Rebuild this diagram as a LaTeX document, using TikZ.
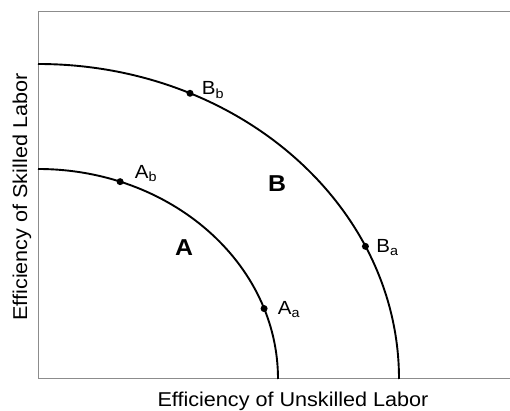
\documentclass[tikz,border=0pt]{standalone}
\usepackage{fontspec}
\setmainfont[FakeStretch=1.08]{Liberation Sans}
\usetikzlibrary{positioning}

\begin{document}
\begin{tikzpicture}[
  x=1pt, y=1pt,
  frontier/.style={line width=1.9pt, black},
  frame/.style={line width=1pt, black!45},
  dot/.style={circle, fill=black, inner sep=0pt, minimum size=7pt},
  ptlabel/.style={inner sep=0pt, font=\fontsize{19}{21}\selectfont},
  region/.style={font=\fontsize{23}{25}\selectfont\bfseries},
  axlabel/.style={font=\fontsize{20}{22}\selectfont}
]
\useasboundingbox (0,0) rectangle (510,411);
\coordinate (O) at (38,32);

% axes frame
\draw[frame] (510,399) -- (38,399) -- (O) -- (510,32);

% the two frontiers
\draw[frontier] (O) ++(0:240 and 210) arc[start angle=0, end angle=90, x radius=240, y radius=210];
\draw[frontier] (O) ++(0:361 and 315) arc[start angle=0, end angle=90, x radius=361, y radius=315];

\path (O) ++(19.6:240 and 210) node[dot] (Aa) {};
\path (O) ++(70:240 and 210)   node[dot] (Ab) {};
\path (O) ++(24.9:361 and 315) node[dot] (Ba) {};
\path (O) ++(65.1:361 and 315) node[dot] (Bb) {};

\node[ptlabel, right=10pt of Aa, yshift=-1pt] (AaLab) {A\textsubscript{a}};
\node[ptlabel, right=11pt of Ab, yshift=8pt]  (AbLab) {A\textsubscript{b}};
\node[ptlabel, right=7pt of Ba, yshift=-1pt]  (BaLab) {B\textsubscript{a}};
\node[ptlabel, right=8pt of Bb, yshift=3pt]   (BbLab) {B\textsubscript{b}};

\node[region] (A) at (184,163) {A};
\node[region] (B) at (277,227) {B};

\node[axlabel, anchor=base] (xlab) at (293,4) {Efficiency of Unskilled Labor};
\node[axlabel, anchor=base, rotate=90] (ylab) at (27,214) {Efficiency of Skilled Labor};
\end{tikzpicture}
\end{document}
